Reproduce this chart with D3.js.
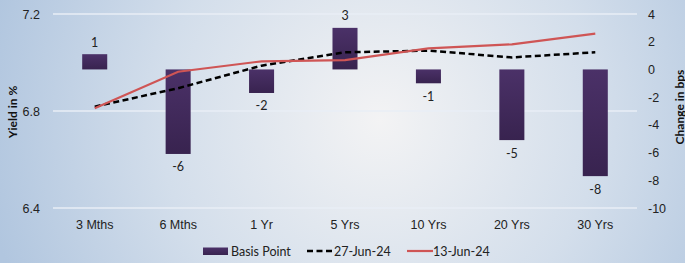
<!DOCTYPE html>
<html><head><meta charset="utf-8">
<script src="https://cdn.jsdelivr.net/npm/d3@7/dist/d3.min.js"></script>
<style>html,body{margin:0;padding:0;overflow:hidden;}svg{display:block;font-family:Lato,"Open Sans","Liberation Sans",Arial,sans-serif;}</style>
</head><body>
<svg id="c" width="685" height="263"></svg>
<script>
const categories = ["3 Mths","6 Mths","1 Yr","5 Yrs","10 Yrs","20 Yrs","30 Yrs"];
const basisPoint = [1.1, -6.1, -1.7, 3.0, -1.0, -5.1, -7.7];
const jun27 = [6.818, 6.894, 6.987, 7.042, 7.049, 7.021, 7.042];
const jun13 = [6.811, 6.962, 7.005, 7.010, 7.058, 7.075, 7.119];
const leftTicks = [6.4, 6.8, 7.2];
const rightTicks = [4, 2, 0, -2, -4, -6, -8, -10];
const legendLabels = ["Basis Point", "27-Jun-24", "13-Jun-24"];

const svg = d3.select("#c");
const W = 685, H = 263;
const hyph = v => String(v).replace("\u2212", "-");
const defs = svg.append("defs");
const bg = defs.append("radialGradient").attr("id","bg")
  .attr("gradientUnits","userSpaceOnUse").attr("cx",380).attr("cy",120).attr("r",400);
bg.append("stop").attr("offset","0").attr("stop-color","#f3f3f4");
bg.append("stop").attr("offset","0.55").attr("stop-color","#d3deeb");
bg.append("stop").attr("offset","1").attr("stop-color","#b1c6df");
const bar = defs.append("linearGradient").attr("id","bar").attr("x1",0).attr("y1",0).attr("x2",0).attr("y2",1);
bar.append("stop").attr("offset","0").attr("stop-color","#4b3168");
bar.append("stop").attr("offset","1").attr("stop-color","#38234f");

svg.append("rect").attr("width",W).attr("height",H).attr("fill","url(#bg)");

const x0 = 53, x1 = 637, yTop = 14, yBot = 208;
const x = d3.scaleBand().domain(categories).range([x0, x1]).paddingInner(0.7).paddingOuter(0.35);
const yL = d3.scaleLinear().domain([6.4, 7.2]).range([yBot, yTop]);
const yR = d3.scaleLinear().domain([-10, 4]).range([yBot, yTop]);

// gridlines
svg.append("g").selectAll("line").data(leftTicks).join("line")
  .attr("x1", x0).attr("x2", x1).attr("y1", d => yL(d)).attr("y2", d => yL(d))
  .attr("stroke", "#e8eef6").attr("stroke-width", 1.5);

// axes
const axL = svg.append("g").attr("transform", `translate(${x0},0)`)
  .call(d3.axisLeft(yL).tickValues(leftTicks).tickFormat(d => d.toFixed(1)).tickSize(0).tickPadding(13));
const axR = svg.append("g").attr("transform", `translate(${x1},0)`)
  .call(d3.axisRight(yR).tickValues(rightTicks).tickFormat(d => String(d)).tickSize(0).tickPadding(11));
const axB = svg.append("g").attr("transform", `translate(0,${yBot})`)
  .call(d3.axisBottom(x).tickSize(0).tickPadding(12));
[axL, axR, axB].forEach(a => {
  a.select(".domain").remove();
  a.selectAll("text").attr("fill", "#222").style("font-size", "12.5px").style("font-family", "inherit");
});

// bars
const bw = x.bandwidth();
svg.append("g").selectAll("rect").data(basisPoint).join("rect")
  .attr("x", (d, i) => x(categories[i]))
  .attr("width", bw)
  .attr("y", d => yR(Math.max(0, d)))
  .attr("height", d => Math.abs(yR(d) - yR(0)))
  .attr("fill", "url(#bar)");

// lines
const line = d3.line().x((d, i) => x(categories[i]) + bw / 2).y(d => yL(d));
svg.append("path").datum(jun27).attr("d", line).attr("fill", "none")
  .attr("stroke", "#000").attr("stroke-width", 2.5).attr("stroke-dasharray", "6,3.5");
svg.append("path").datum(jun13).attr("d", line).attr("fill", "none")
  .attr("stroke", "#cf5555").attr("stroke-width", 2.2);

// data labels
svg.append("g").selectAll("text").data(basisPoint).join("text")
  .attr("x", (d, i) => x(categories[i]) + bw / 2)
  .attr("y", d => d >= 0 ? yR(d) - 12 : yR(d) + 13)
  .attr("text-anchor", "middle").attr("dominant-baseline", "central")
  .attr("fill", "#222").style("font-size", "12.5px")
  .text(d => String(Math.round(d)));

// axis titles
svg.append("text").attr("transform", "translate(12,112) rotate(-90)")
  .attr("text-anchor", "middle").attr("dominant-baseline", "central")
  .style("font-size", "12px").style("font-weight", "bold").attr("fill", "#111").text("Yield in  %");
svg.append("text").attr("transform", "translate(679,107) rotate(-90)")
  .attr("text-anchor", "middle").attr("dominant-baseline", "central")
  .style("font-size", "12px").style("font-weight", "bold").attr("fill", "#111").text("Change in bps");

// legend
const ly = 251;
const lg = svg.append("g");
lg.append("rect").attr("x", 203).attr("y", ly - 3.5).attr("width", 25).attr("height", 7.5).attr("fill", "url(#bar)");
lg.append("text").attr("x", 231).attr("y", ly).text(legendLabels[0]);
lg.append("line").attr("x1", 307).attr("x2", 334).attr("y1", ly).attr("y2", ly)
  .attr("stroke", "#000").attr("stroke-width", 2.5).attr("stroke-dasharray", "6,3.5");
lg.append("text").attr("x", 334).attr("y", ly).text(legendLabels[1]);
lg.append("line").attr("x1", 407).attr("x2", 433).attr("y1", ly).attr("y2", ly)
  .attr("stroke", "#cf5555").attr("stroke-width", 2.2);
lg.append("text").attr("x", 433).attr("y", ly).text(legendLabels[2]);
lg.selectAll("text").attr("dominant-baseline", "central").attr("fill", "#222").style("font-size", "12.5px");
</script>
</body></html>
